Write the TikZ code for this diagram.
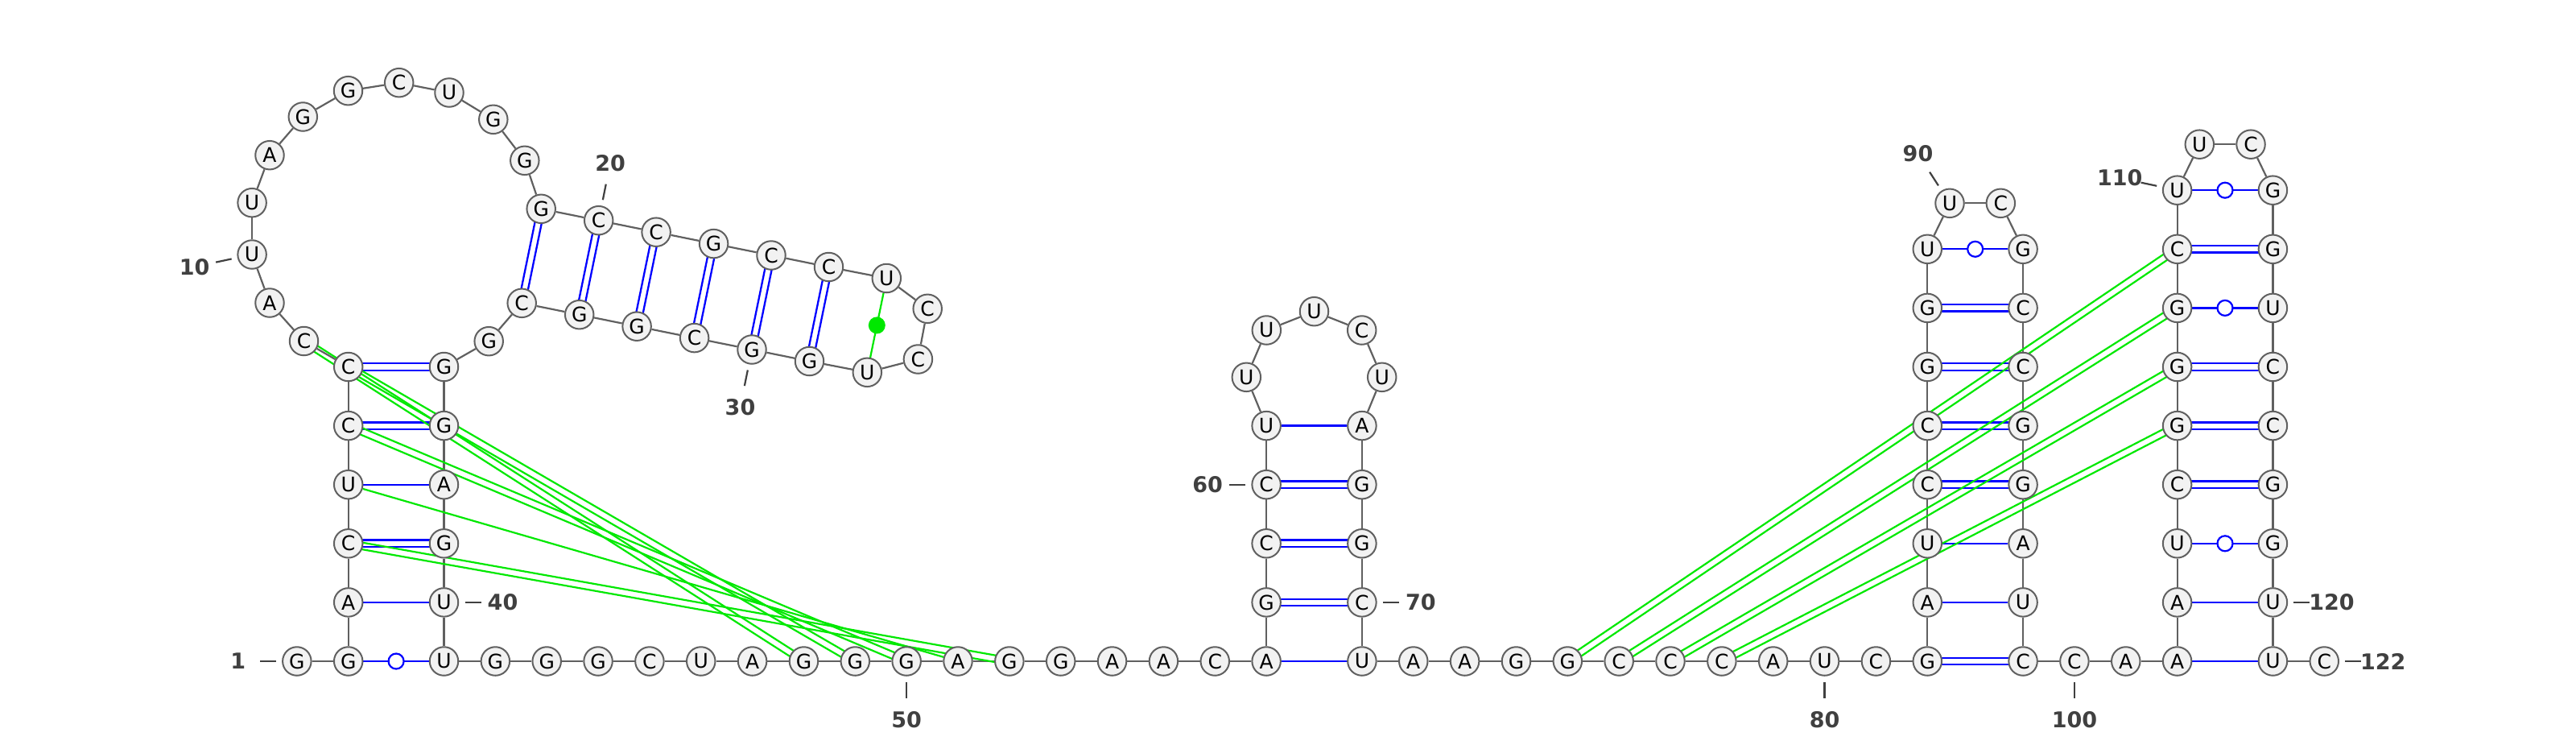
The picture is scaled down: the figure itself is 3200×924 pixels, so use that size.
\documentclass[tikz,border=0pt]{standalone}
\usepackage{fontspec}
\usetikzlibrary{calc}
\newfontfamily\ntfam{DejaVu Sans}
\newcommand\ntfont{\ntfam\fontsize{25}{30}\selectfont}
\newcommand\lblfont{\ntfam\bfseries\fontsize{27}{32}\selectfont}
\definecolor{bbgray}{RGB}{96,96,96}
\definecolor{ntfill}{RGB}{242,242,242}
\definecolor{pblue}{RGB}{0,0,255}
\definecolor{pgreen}{RGB}{0,232,0}
\definecolor{lblgray}{RGB}{64,64,64}
\pgfdeclarelayer{bg}
\pgfsetlayers{bg,main}
\newcommand\dpair[3]{%
  \draw[#1] ($(#2)!4.2pt!90:(#3)$) -- ($(#3)!4.2pt!-90:(#2)$);
  \draw[#1] ($(#2)!4.2pt!-90:(#3)$) -- ($(#3)!4.2pt!90:(#2)$);}
\tikzset{
  nt/.style={circle, draw=bbgray, line width=2pt, fill=ntfill, minimum size=35.5pt, inner sep=0pt, font=\ntfont},
  bb/.style={draw=bbgray, line width=2.2pt},
  bp/.style={draw=pblue, line width=2.3pt},
  gp/.style={draw=pgreen, line width=2.2pt},
  wob/.style={circle, draw=pblue, fill=white, line width=2.2pt, minimum size=19pt, inner sep=0pt},
  gdot/.style={circle, fill=pgreen, minimum size=21pt, inner sep=0pt},
  lbl/.style={font=\lblfont, text=lblgray, inner sep=0pt},
  tickline/.style={draw=lblgray, line width=2.2pt}
}
\begin{document}
\begin{tikzpicture}[x=1pt,y=-1pt]
\useasboundingbox (0,0) rectangle (3200,924);
% rows: 821, 747.9, 674.8, 601.7, 528.6, 455.5, 382.4, 309.3, 236.2
% left stem and big loop
\node[nt] (n1) at (368.85,821) {G};
\node[nt] (n2) at (432.7,821) {G};
\node[nt] (n3) at (432.7,747.9) {A};
\node[nt] (n4) at (432.7,674.8) {C};
\node[nt] (n5) at (432.7,601.7) {U};
\node[nt] (n6) at (432.7,528.6) {C};
\node[nt] (n7) at (432.7,455.5) {C};
\node[nt] (n8) at (377.5,423.5) {C};
\node[nt] (n9) at (335,376) {A};
\node[nt] (n10) at (313.1,316) {U};
\node[nt] (n11) at (313.1,251.7) {U};
\node[nt] (n12) at (335,192.7) {A};
\node[nt] (n13) at (376.3,145) {G};
\node[nt] (n14) at (432.5,112.7) {G};
\node[nt] (n15) at (495.7,102.7) {C};
\node[nt] (n16) at (558,115) {U};
\node[nt] (n17) at (612.8,148.3) {G};
\node[nt] (n18) at (651.8,199.3) {G};
\node[nt] (n19) at (672.2,259.3) {G};
\node[nt] (n20) at (743.7,273.7) {C};
\node[nt] (n21) at (815.1,288.2) {C};
\node[nt] (n22) at (886.6,302.6) {G};
\node[nt] (n23) at (958.0,317.0) {C};
\node[nt] (n24) at (1029.5,331.5) {C};
\node[nt] (n25) at (1101.3,345.5) {U};
\node[nt] (n26) at (1152.2,383.3) {C};
\node[nt] (n27) at (1140.4,446) {C};
\node[nt] (n28) at (1077.3,462.3) {U};
\node[nt] (n29) at (1005.5,448.5) {G};
\node[nt] (n30) at (934.0,434.0) {G};
\node[nt] (n31) at (862.6,419.6) {C};
\node[nt] (n32) at (791.1,405.2) {G};
\node[nt] (n33) at (719.7,390.7) {G};
\node[nt] (n34) at (648.2,376.3) {C};
\node[nt] (n35) at (607.2,423.7) {G};
\node[nt] (n36) at (551.5,455.5) {G};
\node[nt] (n37) at (551.5,528.6) {G};
\node[nt] (n38) at (551.5,601.7) {A};
\node[nt] (n39) at (551.5,674.8) {G};
\node[nt] (n40) at (551.5,747.9) {U};
\node[nt] (n41) at (551.5,821) {U};
% base row
\node[nt] (n42) at (615.35,821) {G};
\node[nt] (n43) at (679.2,821) {G};
\node[nt] (n44) at (743.05,821) {G};
\node[nt] (n45) at (806.9,821) {C};
\node[nt] (n46) at (870.75,821) {U};
\node[nt] (n47) at (934.6,821) {A};
\node[nt] (n48) at (998.45,821) {G};
\node[nt] (n49) at (1062.3,821) {G};
\node[nt] (n50) at (1126.15,821) {G};
\node[nt] (n51) at (1190.0,821) {A};
\node[nt] (n52) at (1253.85,821) {G};
\node[nt] (n53) at (1317.7,821) {G};
\node[nt] (n54) at (1381.55,821) {A};
\node[nt] (n55) at (1445.4,821) {A};
\node[nt] (n56) at (1509.25,821) {C};
\node[nt] (n57) at (1573.1,821) {A};
\node[nt] (n58) at (1573.1,747.9) {G};
\node[nt] (n59) at (1573.1,674.8) {C};
\node[nt] (n60) at (1573.1,601.7) {C};
\node[nt] (n61) at (1573.1,528.6) {U};
\node[nt] (n62) at (1548.3,468.3) {U};
\node[nt] (n63) at (1573.3,410) {U};
\node[nt] (n64) at (1632.5,386.7) {U};
\node[nt] (n65) at (1691.7,410) {C};
\node[nt] (n66) at (1716.7,468.3) {U};
\node[nt] (n67) at (1691.9,528.6) {A};
\node[nt] (n68) at (1691.9,601.7) {G};
\node[nt] (n69) at (1691.9,674.8) {G};
\node[nt] (n70) at (1691.9,747.9) {C};
\node[nt] (n71) at (1691.9,821) {U};
\node[nt] (n72) at (1755.75,821) {A};
\node[nt] (n73) at (1819.6,821) {A};
\node[nt] (n74) at (1883.45,821) {G};
\node[nt] (n75) at (1947.3,821) {G};
\node[nt] (n76) at (2011.15,821) {C};
\node[nt] (n77) at (2075.0,821) {C};
\node[nt] (n78) at (2138.85,821) {C};
\node[nt] (n79) at (2202.7,821) {A};
\node[nt] (n80) at (2266.55,821) {U};
\node[nt] (n81) at (2330.4,821) {C};
\node[nt] (n82) at (2394.25,821) {G};
\node[nt] (n83) at (2394.25,747.9) {A};
\node[nt] (n84) at (2394.25,674.8) {U};
\node[nt] (n85) at (2394.25,601.7) {C};
\node[nt] (n86) at (2394.25,528.6) {C};
\node[nt] (n87) at (2394.25,455.5) {G};
\node[nt] (n88) at (2394.25,382.4) {G};
\node[nt] (n89) at (2394.25,309.3) {U};
\node[nt] (n90) at (2422.0,252.3) {U};
\node[nt] (n91) at (2485.3,252.3) {C};
\node[nt] (n92) at (2513.05,309.3) {G};
\node[nt] (n93) at (2513.05,382.4) {C};
\node[nt] (n94) at (2513.05,455.5) {C};
\node[nt] (n95) at (2513.05,528.6) {G};
\node[nt] (n96) at (2513.05,601.7) {G};
\node[nt] (n97) at (2513.05,674.8) {A};
\node[nt] (n98) at (2513.05,747.9) {U};
\node[nt] (n99) at (2513.05,821) {C};
\node[nt] (n100) at (2576.9,821) {C};
\node[nt] (n101) at (2640.75,821) {A};
\node[nt] (n102) at (2704.6,821) {A};
\node[nt] (n103) at (2704.6,747.9) {A};
\node[nt] (n104) at (2704.6,674.8) {U};
\node[nt] (n105) at (2704.6,601.7) {C};
\node[nt] (n106) at (2704.6,528.6) {G};
\node[nt] (n107) at (2704.6,455.5) {G};
\node[nt] (n108) at (2704.6,382.4) {G};
\node[nt] (n109) at (2704.6,309.3) {C};
\node[nt] (n110) at (2704.6,236.2) {U};
\node[nt] (n111) at (2732.3,179.2) {U};
\node[nt] (n112) at (2796.0,179.2) {C};
\node[nt] (n113) at (2823.4,236.2) {G};
\node[nt] (n114) at (2823.4,309.3) {G};
\node[nt] (n115) at (2823.4,382.4) {U};
\node[nt] (n116) at (2823.4,455.5) {C};
\node[nt] (n117) at (2823.4,528.6) {C};
\node[nt] (n118) at (2823.4,601.7) {G};
\node[nt] (n119) at (2823.4,674.8) {G};
\node[nt] (n120) at (2823.4,747.9) {U};
\node[nt] (n121) at (2823.4,821) {U};
\node[nt] (n122) at (2887.25,821) {C};
% wobble markers and noncanonical dot
\foreach \a/\b in {2/41,89/92,104/119,108/115,110/113}
  {\node[wob] (w\a) at ($(n\a)!0.5!(n\b)$) {};}
\node[gdot] (gd25) at ($(n25)!0.5!(n28)$) {};
% labels
\node[lbl] (l1) at (295.85,821) {1};
\node[lbl] (l10) at (241.7,331.3) {10};
\node[lbl] (l20) at (758.1,202.2) {20};
\node[lbl] (l30) at (919.5,505.5) {30};
\node[lbl] (l40) at (624.5,747.9) {40};
\node[lbl] (l50) at (1126.15,894) {50};
\node[lbl] (l60) at (1500.1,601.7) {60};
\node[lbl] (l70) at (1764.9,747.9) {70};
\node[lbl] (l80) at (2266.55,894) {80};
\node[lbl] (l90) at (2382.5,191.0) {90};
\node[lbl] (l100) at (2576.9,894) {100};
\node[lbl] (l110) at (2633.2,221.1) {110};
\node[lbl] (l120) at (2896.4,747.9) {120};
\node[lbl] (l122) at (2960.25,821) {122};
\foreach \k in {1,10,20,30,40,50,60,70,80,90,100,110,120,122}
  {\draw[tickline] ($(n\k)!26pt!(l\k)$) -- ($(n\k)!46pt!(l\k)$);}
\begin{pgfonlayer}{bg}
  % backbone
  \foreach \i [count=\j from 2] in {1,...,121} {\draw[bb] (n\i) -- (n\j);}
  % canonical GC pairs
  \foreach \a/\b in {4/39,6/37,7/36,19/34,20/33,21/32,22/31,23/30,24/29,58/70,59/69,60/68,82/99,85/96,86/95,87/94,88/93,105/118,106/117,107/116,109/114}
    {\dpair{bp}{n\a}{n\b}}
  % AU and GU pairs
  \foreach \a/\b in {3/40,5/38,57/71,61/67,83/98,84/97,102/121,103/120,2/41,89/92,104/119,108/115,110/113}
    {\draw[bp] (n\a) -- (n\b);}
  % noncanonical and tertiary interactions
  \draw[gp] (n25) -- (n28);
  \foreach \a/\b in {4/52,6/50,7/49,8/48,75/109,76/108,77/107,78/106}
    {\dpair{gp}{n\a}{n\b}}
  \draw[gp] (n5) -- (n51);
\end{pgfonlayer}
\end{tikzpicture}
\end{document}
